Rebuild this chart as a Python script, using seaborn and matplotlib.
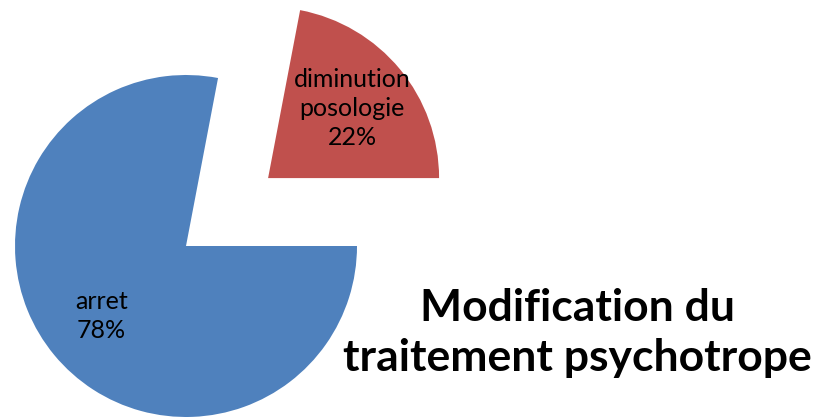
import matplotlib
matplotlib.use("Agg")
import matplotlib.pyplot as plt
import seaborn as sns

# Share of patients by change made to their psychotropic treatment
categories = ["diminution\nposologie", "arret"]
shares = [22, 78]
colors = ["#C0504D", "#4F81BD"]
title_lines = ["Modification du", "traitement psychotrope"]

sns.set_theme(style="white")
plt.rcParams["font.family"] = ["Lato", "DejaVu Sans"]

W, H = 815, 417
fig = plt.figure(figsize=(W / 100, H / 100), dpi=100)
ax = fig.add_axes([0, 0, 1, 1])

radius = 171
labels = [f"{c}\n{v}%" for c, v in zip(categories, shares)]
wedges, texts = ax.pie(
    shares,
    labels=labels,
    colors=colors,
    startangle=0,
    counterclock=True,
    explode=[0.623 * radius, 0.0],  # explode offset is in data units
    center=(186, 171),
    radius=radius,
    labeldistance=0.64,
    wedgeprops=dict(linewidth=0),
    textprops=dict(fontsize=18, color="black", linespacing=1.3),
)
for t in texts:
    t.set_horizontalalignment("center")
    t.set_verticalalignment("center")

ax.set_xlim(0, W)
ax.set_ylim(0, H)
ax.set_aspect("equal")
ax.axis("off")

ax.text(577, 417 - 333, "\n".join(title_lines), ha="center", va="center",
        fontsize=32, fontweight="bold", color="black", linespacing=1.3)

fig.savefig("out.png", dpi=100)
